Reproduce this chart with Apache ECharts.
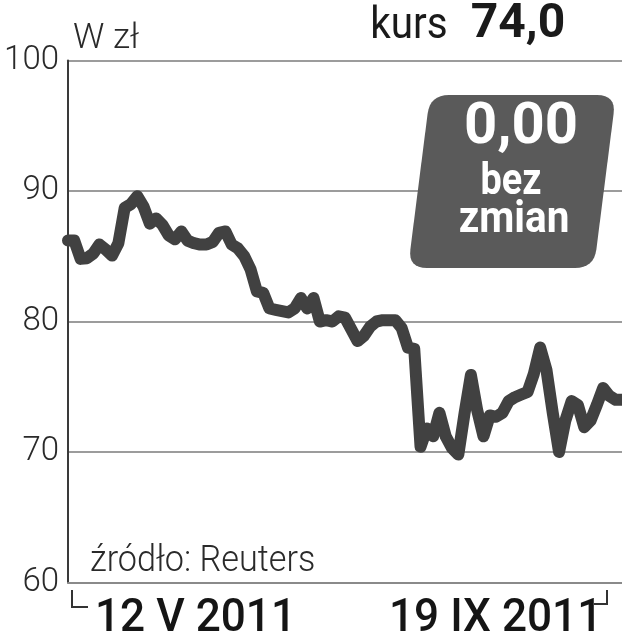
<!DOCTYPE html>
<html>
<head>
<meta charset="utf-8">
<script src="https://cdn.jsdelivr.net/npm/echarts@6/dist/echarts.min.js"></script>
<style>
html,body{margin:0;padding:0;background:#fff;}
#chart{width:622px;height:640px;}
</style>
</head>
<body>
<div id="chart"></div>
<script>
// Daily closing price, zł (12 V 2011 – 19 IX 2011)
const prices = [
  86.2, 86.2, 84.8, 84.85, 85.2, 85.9, 85.5, 85.05, 86.0, 88.7,
  89.0, 89.6, 88.8, 87.5, 87.9, 87.4, 86.6, 86.3, 86.9, 86.2,
  86.0, 85.9, 85.9, 86.1, 86.8, 86.9, 85.9, 85.6, 85.0, 84.0,
  82.3, 82.2, 81.0, 80.9, 80.8, 80.7, 81.0, 81.8, 81.0, 81.8,
  80.0, 80.1, 80.0, 80.4, 80.3, 79.4, 78.5, 78.9, 79.6, 80.0,
  80.1, 80.1, 80.1, 79.5, 78.0, 77.9, 70.4, 71.8, 71.2, 73.0,
  71.2, 70.3, 69.8, 73.0, 75.9, 73.2, 71.2, 72.8, 72.7, 73.0,
  73.9, 74.2, 74.4, 74.6, 76.0, 78.0, 76.3, 73.0, 70.0, 72.4,
  73.9, 73.6, 71.9, 72.4, 73.6, 74.9, 74.3, 74.0, 74.0
];
const categories = prices.map((_, i) => 'd' + (i + 1));
const yTicks = [60, 70, 80, 90, 100];
const dateLabels = ['12 V 2011', '19 IX 2011'];
const unitLabel = 'W zł';
const kursLabel = 'kurs';
const kursValue = '74,0';
const changeValue = '0,00';
const changeText = ['bez', 'zmian'];
const sourceLabel = 'źródło: Reuters';

// rounded parallelogram outline for the change badge
function roundedPoly(c, r) {
  const pts = [];
  const n = c.length;
  for (let i = 0; i < n; i++) {
    const p = c[i], a = c[(i - 1 + n) % n], b = c[(i + 1) % n];
    const la = Math.hypot(a[0] - p[0], a[1] - p[1]);
    const lb = Math.hypot(b[0] - p[0], b[1] - p[1]);
    const s = [p[0] + (a[0] - p[0]) * r / la, p[1] + (a[1] - p[1]) * r / la];
    const e = [p[0] + (b[0] - p[0]) * r / lb, p[1] + (b[1] - p[1]) * r / lb];
    for (let k = 0; k <= 8; k++) {
      const t = k / 8, u = 1 - t;
      pts.push([u * u * s[0] + 2 * u * t * p[0] + t * t * e[0],
                u * u * s[1] + 2 * u * t * p[1] + t * t * e[1]]);
    }
  }
  return pts;
}
const badge = roundedPoly([[430, 95], [616, 95], [594, 268], [408, 268]], 19);

const chart = echarts.init(document.getElementById('chart'), null, {renderer: 'canvas'});
chart.setOption({
  animation: false,
  backgroundColor: '#fff',
  grid: {left: 68, right: 0, top: 60.5, bottom: 57.5, containLabel: false},
  xAxis: {
    type: 'category',
    data: categories,
    boundaryGap: false,
    axisLine: {show: true, lineStyle: {color: '#8a8a8a', width: 2}},
    axisTick: {show: false},
    axisLabel: {show: false},
    splitLine: {show: false}
  },
  yAxis: {
    type: 'value',
    min: yTicks[0],
    max: yTicks[yTicks.length - 1],
    interval: 10,
    axisLine: {show: true, lineStyle: {color: '#3a3a3a', width: 2}},
    axisTick: {show: false},
    axisLabel: {
      show: true, margin: 9, color: '#2a2a2a',
      fontFamily: 'Roboto', fontWeight: 300, fontSize: 33
    },
    splitLine: {show: true, lineStyle: {color: '#9c9c9c', width: 2}}
  },
  series: [{
    type: 'line',
    data: prices,
    showSymbol: false,
    symbol: 'none',
    smooth: false,
    lineStyle: {color: '#414141', width: 12, cap: 'round', join: 'round'},
    z: 3
  }],
  graphic: [
    {type: 'text', x: 73, y: 57, z: 10,
     style: {text: unitLabel, font: '300 35px Roboto', fill: '#2a2a2a', textVerticalAlign: 'bottom'}},
    {type: 'text', x: 409, y: 49, z: 10,
     style: {text: kursLabel, font: '400 44px Roboto', fill: '#1a1a1a', textAlign: 'center', textVerticalAlign: 'bottom'},
     scaleX: 0.92},
    {type: 'text', x: 518, y: 49, z: 10,
     style: {text: kursValue, font: 'bold 48px Roboto', fill: '#1a1a1a', textAlign: 'center', textVerticalAlign: 'bottom'},
     scaleX: 1.0},
    {type: 'polygon', z: 20,
     shape: {points: badge},
     style: {fill: '#5a5a5a'}},
    {type: 'text', x: 521, y: 157, z: 21,
     style: {text: changeValue, font: 'bold 58px Roboto', fill: '#fff', textAlign: 'center', textVerticalAlign: 'bottom'},
     scaleX: 1.0},
    {type: 'text', x: 511, y: 205, z: 21,
     style: {text: changeText[0], font: 'bold 44px Roboto', fill: '#fff', textAlign: 'center', textVerticalAlign: 'bottom'},
     scaleX: 0.86},
    {type: 'text', x: 514, y: 243, z: 21,
     style: {text: changeText[1], font: 'bold 44px Roboto', fill: '#fff', textAlign: 'center', textVerticalAlign: 'bottom'},
     scaleX: 0.92},
    {type: 'text', x: 90, y: 580, z: 10,
     style: {text: sourceLabel, font: '300 36px Roboto', fill: '#2a2a2a', textAlign: 'left', textVerticalAlign: 'bottom'},
     scaleX: 0.95},
    {type: 'polyline', z: 10,
     shape: {points: [[72, 590], [72, 607], [88, 607]]},
     style: {stroke: '#333', lineWidth: 2, fill: null}},
    {type: 'polyline', z: 10,
     shape: {points: [[594, 604], [607, 604], [607, 590]]},
     style: {stroke: '#333', lineWidth: 2, fill: null}},
    {type: 'text', x: 95, y: 642, z: 10,
     style: {text: dateLabels[0], font: '500 46px Roboto', fill: '#151515', textAlign: 'left', textVerticalAlign: 'bottom'},
     scaleX: 0.96},
    {type: 'text', x: 389, y: 642, z: 10,
     style: {text: dateLabels[1], font: '500 46px Roboto', fill: '#151515', textAlign: 'left', textVerticalAlign: 'bottom'},
     scaleX: 0.96}
  ]
});
</script>
</body>
</html>
